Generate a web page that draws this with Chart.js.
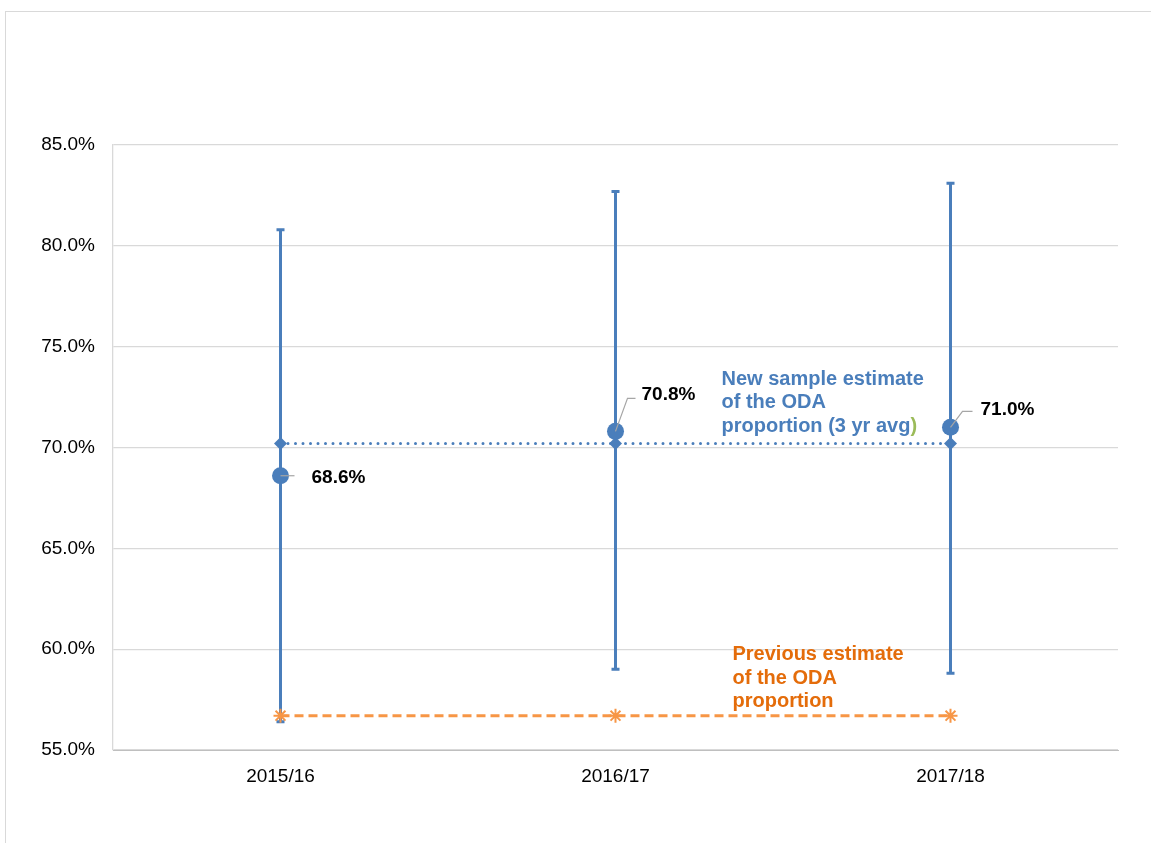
<!DOCTYPE html>
<html><head><meta charset="utf-8">
<script src="https://cdn.jsdelivr.net/npm/chart.js@4/dist/chart.umd.min.js"></script>
<style>
html,body{margin:0;padding:0;background:#fff;}
#wrap{position:relative;width:1151px;height:843px;}
#frame{position:absolute;left:5px;top:11px;right:-2px;bottom:-2px;border-left:1px solid #d9d9d9;border-top:1px solid #d9d9d9;pointer-events:none;}
canvas{position:absolute;left:0;top:0;}
</style></head><body>
<div id="wrap"><canvas id="c" width="1151" height="843"></canvas><div id="frame"></div></div>
<script>
const categories = ['2015/16', '2016/17', '2017/18'];
const newEstimate = [68.6, 70.8, 71.0];
const errLow = [56.4, 59.0, 58.8];
const errHigh = [80.8, 82.7, 83.1];
const avg3yr = [70.2, 70.2, 70.2];
const prevEstimate = [56.7, 56.7, 56.7];
const yTicks = [55, 60, 65, 70, 75, 80, 85];

const BLUE = '#4a7ebb';
const ORANGE = '#f79646';
const FONT = '"Liberation Sans", Arial, sans-serif';

const errorBars = {
  id: 'errorBars',
  beforeDatasetsDraw(chart) {
    const x = chart.scales.x, y = chart.scales.y, ctx = chart.ctx;
    ctx.save();
    ctx.strokeStyle = BLUE;
    ctx.lineWidth = 3;
    categories.forEach((c, i) => {
      const px = x.getPixelForValue(i);
      const yl = y.getPixelForValue(errLow[i]);
      const yh = y.getPixelForValue(errHigh[i]);
      ctx.beginPath();
      ctx.moveTo(px, yl); ctx.lineTo(px, yh);
      ctx.moveTo(px - 4, yl); ctx.lineTo(px + 4, yl);
      ctx.moveTo(px - 4, yh); ctx.lineTo(px + 4, yh);
      ctx.stroke();
    });
    ctx.restore();
  }
};

const labelLayouts = [
  {leader: [[0,0],[14,0]], text: [31, 2]},
  {leader: [[0,0],[12,-33],[20,-33]], text: [26, -37]},
  {leader: [[0,0],[12,-16],[22,-16]], text: [30, -18]}
];

const dataLabels = {
  id: 'dataLabels',
  afterDatasetsDraw(chart) {
    const x = chart.scales.x, y = chart.scales.y, ctx = chart.ctx;
    ctx.save();
    newEstimate.forEach((v, i) => {
      const px = x.getPixelForValue(i), py = y.getPixelForValue(v);
      const L = labelLayouts[i];
      ctx.strokeStyle = '#a6a6a6'; ctx.lineWidth = 1.2;
      ctx.beginPath();
      L.leader.forEach((p, k) => { if (k === 0) ctx.moveTo(px + p[0], py + p[1]); else ctx.lineTo(px + p[0], py + p[1]); });
      ctx.stroke();
      ctx.fillStyle = '#000';
      ctx.font = 'bold 19px ' + FONT;
      ctx.textBaseline = 'middle';
      ctx.textAlign = 'left';
      ctx.fillText(v.toFixed(1) + '%', px + L.text[0], py + L.text[1]);
    });
    ctx.font = 'bold 20px ' + FONT;
    ctx.textBaseline = 'middle';
    ctx.textAlign = 'left';
    const ax = x.getPixelForValue(1) + 106;
    const ay = y.getPixelForValue(avg3yr[1]);
    ctx.fillStyle = BLUE;
    ctx.fillText('New sample estimate', ax, ay - 64);
    ctx.fillText('of the ODA', ax, ay - 41);
    const t = 'proportion (3 yr avg';
    ctx.fillText(t, ax, ay - 17);
    ctx.fillStyle = '#9bbb59';
    ctx.fillText(')', ax + ctx.measureText(t).width, ay - 17);
    const bx = x.getPixelForValue(1) + 117;
    const by = y.getPixelForValue(prevEstimate[1]);
    ctx.fillStyle = '#e46c0a';
    ctx.fillText('Previous estimate', bx, by - 61);
    ctx.fillText('of the ODA', bx, by - 37);
    ctx.fillText('proportion', bx, by - 14);
    ctx.restore();
  }
};

new Chart(document.getElementById('c'), {
  type: 'line',
  data: {
    labels: categories,
    datasets: [
      {
        data: prevEstimate, borderColor: ORANGE, backgroundColor: ORANGE,
        borderWidth: 3, borderDash: [9, 5], pointStyle: 'star', pointRadius: 7,
        pointBorderColor: ORANGE, pointBorderWidth: 2, order: 3
      },
      {
        data: avg3yr, borderColor: BLUE, backgroundColor: BLUE,
        borderWidth: 3, borderDash: [0, 7.5], borderCapStyle: 'round',
        pointStyle: 'rectRot', pointRadius: 6.5, pointBorderWidth: 0, order: 2
      },
      {
        data: newEstimate, showLine: false, backgroundColor: BLUE, borderColor: BLUE,
        pointStyle: 'circle', pointRadius: 8.5, pointBorderWidth: 0, order: 1
      }
    ]
  },
  options: {
    responsive: false, animation: false,
    layout: {padding: {left: 0, top: 145, right: 33, bottom: 0}},
    plugins: {legend: {display: false}, tooltip: {enabled: false}},
    scales: {
      x: {
        offset: true,
        grid: {display: false, drawTicks: false},
        border: {color: '#bfbfbf', width: 1},
        ticks: {color: '#000', font: {family: FONT, size: 19}, padding: 15},
        afterFit(s) { s.height = 93; }
      },
      y: {
        min: 55, max: 85,
        afterBuildTicks(s) { s.ticks = yTicks.map(v => ({value: v})); },
        grid: {color: '#d9d9d9', lineWidth: 1.3, drawTicks: false},
        border: {color: '#d9d9d9', width: 1.3},
        ticks: {color: '#000', font: {family: FONT, size: 19}, padding: 18,
          callback: v => v.toFixed(1) + '%'},
        afterFit(s) { s.width = 113; }
      }
    }
  },
  plugins: [errorBars, dataLabels]
});
</script>
</body></html>
